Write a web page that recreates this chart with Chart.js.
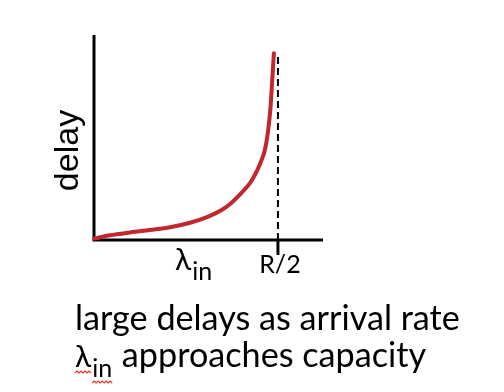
<!DOCTYPE html>
<html>
<head>
<meta charset="utf-8">
<script src="https://cdn.jsdelivr.net/npm/chart.js@4"></script>
<style>
html,body{margin:0;padding:0;background:#fff;}
#wrap{position:relative;width:504px;height:392px;}
</style>
</head>
<body>
<div id="wrap"><canvas id="c" width="504" height="392"></canvas></div>
<script>
// arrival rate (fraction of R/2) and delay (relative)
const arrivalRate = [0, 0.087, 0.196, 0.304, 0.413, 0.522, 0.621, 0.694, 0.748, 0.803, 0.848, 0.884, 0.911, 0.929, 0.947, 0.960, 0.969, 0.978];
const delayValues = [0.007, 0.023, 0.037, 0.049, 0.062, 0.084, 0.114, 0.146, 0.182, 0.231, 0.277, 0.333, 0.390, 0.439, 0.537, 0.650, 0.780, 0.911];
const capacityX = [1, 1];
const capacityY = [0, 0.905];
const xTickLabel = 'R/2';
const yTitle = 'delay';
const xTitle = ['λ', 'in'];
const captionLine1 = 'large delays as arrival rate';
const captionLine2 = ['λ', 'in', ' approaches capacity'];

const curvePts = arrivalRate.map((x, i) => ({x: x, y: delayValues[i]}));
const capPts = capacityX.map((x, i) => ({x: x, y: capacityY[i]}));

const CAPFONT = 'Lato, "Open Sans", sans-serif';

const decor = {
  id: 'decor',
  beforeDatasetsDraw(chart) {
    const {ctx, chartArea: a} = chart;
    ctx.save();
    ctx.strokeStyle = '#000';
    ctx.lineWidth = 3;
    ctx.beginPath();
    ctx.moveTo(a.left, a.top);
    ctx.lineTo(a.left, a.bottom + 1.5);
    ctx.moveTo(a.left - 1.5, a.bottom);
    ctx.lineTo(a.right, a.bottom);
    ctx.stroke();
    ctx.restore();
  },
  afterDatasetsDraw(chart) {
    const {ctx, chartArea: a, scales} = chart;
    const xs = scales.x;
    const tx = xs.getPixelForValue(capacityX[0]);
    ctx.save();
    ctx.strokeStyle = '#000';
    ctx.lineWidth = 3;
    ctx.beginPath();
    ctx.moveTo(tx, a.bottom);
    ctx.lineTo(tx, a.bottom + 15);
    ctx.stroke();

    ctx.fillStyle = '#000';
    ctx.textBaseline = 'alphabetic';
    // y title
    ctx.save();
    ctx.translate(a.left - 16, (a.top + a.bottom) / 2 + 13);
    ctx.rotate(-Math.PI / 2);
    ctx.textAlign = 'center';
    ctx.font = '34px "Liberation Sans", Arial, sans-serif';
    ctx.fillText(yTitle, 0, 0);
    ctx.restore();

    // x title lambda_in
    ctx.textAlign = 'left';
    ctx.font = '30px ' + CAPFONT;
    const lx = 175;
    ctx.fillText(xTitle[0], lx, a.bottom + 30);
    const lw = ctx.measureText(xTitle[0]).width;
    ctx.font = '25px ' + CAPFONT;
    ctx.fillText(xTitle[1], lx + lw + 1, a.bottom + 40);

    // tick label
    ctx.textAlign = 'center';
    ctx.font = '25px ' + CAPFONT;
    ctx.fillText(xTickLabel, tx + 2, a.bottom + 33);

    // caption
    ctx.textAlign = 'left';
    let fs = 33;
    ctx.font = fs + 'px ' + CAPFONT;
    const w1 = ctx.measureText(captionLine1).width;
    fs = fs * 385 / w1;
    ctx.font = fs + 'px ' + CAPFONT;
    const cx = 75;
    ctx.fillText(captionLine1, cx, 330);
    ctx.font = '30px ' + CAPFONT;
    ctx.fillText(captionLine2[0], cx, 367);
    const lw2 = ctx.measureText(captionLine2[0]).width;
    ctx.font = '25px ' + CAPFONT;
    ctx.fillText(captionLine2[1], cx + lw2 + 1, 377);
    const iw = ctx.measureText(captionLine2[1]).width;
    ctx.font = fs + 'px ' + CAPFONT;
    ctx.fillText(captionLine2[2], cx + lw2 + iw + 2, 367);

    // squiggle
    ctx.strokeStyle = '#e8332a';
    ctx.lineWidth = 1.2;
    function squig(x0, x1, y) {
      ctx.beginPath();
      let up = true;
      ctx.moveTo(x0, y);
      for (let x = x0 + 2; x <= x1; x += 2) {
        ctx.lineTo(x, up ? y - 2 : y);
        up = !up;
      }
      ctx.stroke();
    }
    squig(cx, cx + lw2, 373);
    squig(cx + lw2 + 1, cx + lw2 + iw + 2, 383);
    ctx.restore();
  }
};

new Chart(document.getElementById('c'), {
  type: 'line',
  data: {
    datasets: [
      {data: curvePts, borderColor: '#c1272d', borderWidth: 4, pointRadius: 0,
       cubicInterpolationMode: 'monotone', fill: false, clip: false, borderCapStyle: 'round'},
      {data: capPts, borderColor: '#000', borderWidth: 2, borderDash: [7, 4],
       pointRadius: 0, fill: false, clip: false}
    ]
  },
  options: {
    responsive: false,
    animation: false,
    events: [],
    layout: {padding: {left: 94, right: 181, top: 35, bottom: 152}},
    plugins: {legend: {display: false}, tooltip: {enabled: false}},
    scales: {
      x: {type: 'linear', min: 0, max: 1.245, display: false},
      y: {type: 'linear', min: 0, max: 1, display: false}
    }
  },
  plugins: [decor]
});
</script>
</body>
</html>
